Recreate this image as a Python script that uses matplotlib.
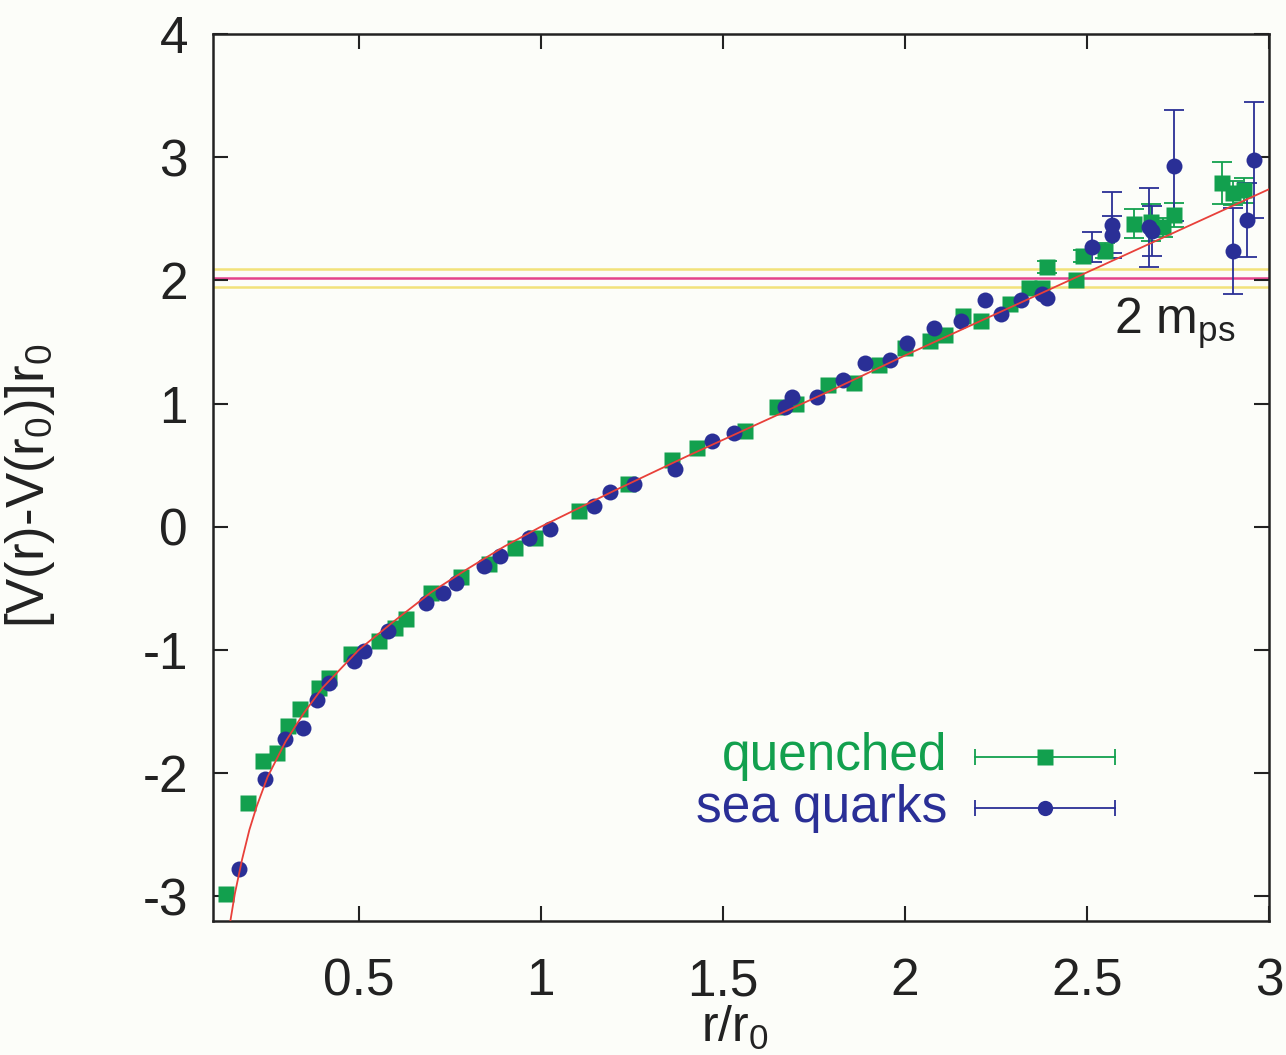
import numpy as np
import matplotlib
matplotlib.use('Agg')
import matplotlib.pyplot as plt

plt.rcParams['font.family'] = ['Liberation Sans', 'DejaVu Sans']
plt.rcParams['mathtext.fontset'] = 'custom'
plt.rcParams['mathtext.rm'] = 'Liberation Sans'
plt.rcParams['mathtext.it'] = 'Liberation Sans:italic'
plt.rcParams['axes.unicode_minus'] = False

# quenched data (r/r0, value, error)
q_x = [0.136, 0.197, 0.238, 0.277, 0.305, 0.34, 0.39, 0.418, 0.478, 0.556,
       0.60, 0.63, 0.70, 0.78, 0.857, 0.93, 0.984, 1.105, 1.24, 1.36,
       1.43, 1.56, 1.65, 1.70, 1.79, 1.86, 1.93, 2.00, 2.07, 2.11,
       2.16, 2.21, 2.29, 2.34, 2.376, 2.39, 2.47, 2.49, 2.55, 2.63,
       2.675, 2.71, 2.74, 2.87, 2.90, 2.93]
q_y = [-2.98, -2.24, -1.90, -1.84, -1.62, -1.48, -1.31, -1.23, -1.03, -0.93,
       -0.82, -0.75, -0.54, -0.41, -0.30, -0.17, -0.09, 0.13, 0.35, 0.54,
       0.64, 0.78, 0.97, 1.00, 1.15, 1.17, 1.31, 1.45, 1.51, 1.56,
       1.71, 1.67, 1.81, 1.94, 1.94, 2.11, 2.00, 2.20, 2.24, 2.46,
       2.47, 2.43, 2.53, 2.79, 2.71, 2.73]
q_err = [0, 0, 0, 0, 0, 0, 0, 0, 0, 0,
         0, 0, 0, 0, 0, 0, 0, 0, 0, 0,
         0, 0, 0, 0, 0, 0, 0, 0, 0, 0,
         0, 0, 0, 0, 0, 0.05, 0, 0.05, 0.06, 0.12,
         0.15, 0.08, 0.10, 0.17, 0.10, 0.10]

# dynamical (sea quark) data
s_x = [0.172, 0.244, 0.299, 0.346, 0.387, 0.418, 0.487, 0.514, 0.58, 0.686,
       0.733, 0.768, 0.843, 0.887, 0.967, 1.025, 1.147, 1.19, 1.257, 1.37,
       1.47, 1.53, 1.67, 1.69, 1.76, 1.83, 1.89, 1.96, 2.006, 2.08,
       2.155, 2.22, 2.265, 2.32, 2.376, 2.39, 2.514, 2.57, 2.57, 2.67,
       2.68, 2.74, 2.90, 2.94, 2.96]
s_y = [-2.78, -2.05, -1.72, -1.63, -1.41, -1.27, -1.09, -1.01, -0.85, -0.62,
       -0.54, -0.46, -0.32, -0.24, -0.09, -0.02, 0.17, 0.28, 0.35, 0.47,
       0.70, 0.76, 0.97, 1.05, 1.05, 1.19, 1.33, 1.35, 1.49, 1.61,
       1.67, 1.84, 1.73, 1.84, 1.89, 1.86, 2.27, 2.45, 2.37, 2.43,
       2.40, 2.93, 2.24, 2.49, 2.98]
s_err = [0, 0, 0, 0, 0, 0, 0, 0, 0, 0,
         0, 0, 0, 0, 0, 0, 0, 0, 0, 0,
         0, 0, 0, 0, 0, 0, 0, 0, 0, 0,
         0, 0, 0, 0, 0, 0, 0.12, 0.27, 0.15, 0.32,
         0.20, 0.45, 0.35, 0.30, 0.47]

# fitted potential curve
fit_x = [0.145, 0.16, 0.18, 0.20, 0.22, 0.25, 0.30, 0.35, 0.40, 0.50,
         0.60, 0.70, 0.80, 0.90, 1.00, 1.20, 1.40, 1.60, 1.80, 2.00,
         2.20, 2.40, 2.60, 2.80, 3.00]
fit_y = [-3.25, -2.98, -2.70, -2.46, -2.27, -2.03, -1.74, -1.51, -1.31, -1.00,
         -0.76, -0.53, -0.34, -0.16, 0.00, 0.29, 0.57, 0.84, 1.11, 1.39,
         1.66, 1.93, 2.20, 2.47, 2.74]

# 2 m_ps threshold and its error band
mps_center = 2.02
mps_band = [1.95, 2.09]

green = '#12a04e'
blue = '#2a2f96'
ink = '#222222'

fig = plt.figure(figsize=(12.86, 10.55), dpi=100, facecolor='#fcfdf9')
ax = fig.add_axes([0.1656, 0.127, 0.8212, 0.8408])
ax.set_facecolor('#fcfdf9')

for yb in mps_band:
    ax.axhline(yb, color='#f2e27a', lw=1.8, zorder=1)
ax.axhline(mps_center, color='#e4448c', lw=1.8, zorder=1)

q_x, q_y, q_err = map(np.array, (q_x, q_y, q_err))
s_x, s_y, s_err = map(np.array, (s_x, s_y, s_err))

mq = q_err > 0
ax.errorbar(q_x[mq], q_y[mq], yerr=q_err[mq], fmt='none', ecolor=green,
            elinewidth=1.3, capsize=7, capthick=1.3, zorder=2)
ms = s_err > 0
ax.errorbar(s_x[ms], s_y[ms], yerr=s_err[ms], fmt='none', ecolor=blue,
            elinewidth=1.3, capsize=7, capthick=1.3, zorder=2)

ax.plot(q_x, q_y, 's', color=green, ms=11, mec='none', zorder=3)
ax.plot(s_x, s_y, 'o', color=blue, ms=11.5, mec='none', zorder=4)

ax.plot(fit_x, fit_y, color='#e8403a', lw=1.3, zorder=5)

ax.set_xlim(0.1, 3.0)
ax.set_ylim(-3.2, 4.0)
ax.set_xticks([0.5, 1, 1.5, 2, 2.5, 3])
ax.set_xticklabels(['0.5', '1', '1.5', '2', '2.5', '3'])
ax.set_yticks([-3, -2, -1, 0, 1, 2, 3, 4])
ax.tick_params(direction='in', length=11, width=1.5, top=True, right=True,
               labelsize=37, colors=ink)
ax.tick_params(axis='x', pad=26)
ax.tick_params(axis='y', pad=18)
for sp in ax.spines.values():
    sp.set_linewidth(1.8)
    sp.set_color(ink)

ax.set_xlabel(r'r/r$_0$', fontsize=36, color=ink, va='top')
ax.xaxis.set_label_coords(0.494, -0.093)
ax.set_ylabel(r'[V(r)-V(r$_0$)]r$_0$', fontsize=38, color=ink)
ax.yaxis.set_label_coords(-0.148, 0.49)

ax.text(0.968, 0.674, r'2 m$_{\rm ps}$', transform=ax.transAxes, fontsize=36,
        ha='right', va='center', color=ink)

# legend drawn in gnuplot style
leg_rows = [('quenched', green, 's', 0.185), ('sea quarks', blue, 'o', 0.127)]
for label, col, mk, yy in leg_rows:
    ax.text(0.695, yy, label, transform=ax.transAxes, fontsize=37,
            ha='right', va='center', color=col)
    ax.plot([0.722, 0.854], [yy, yy], color=col, lw=1.3, transform=ax.transAxes)
    ax.plot([0.722, 0.854], [yy, yy], '|', color=col, ms=12, mew=1.3,
            transform=ax.transAxes)
    ax.plot([0.788], [yy], mk, color=col, ms=11, mec='none',
            transform=ax.transAxes)

fig.savefig('out.png', dpi=100, facecolor=fig.get_facecolor())
